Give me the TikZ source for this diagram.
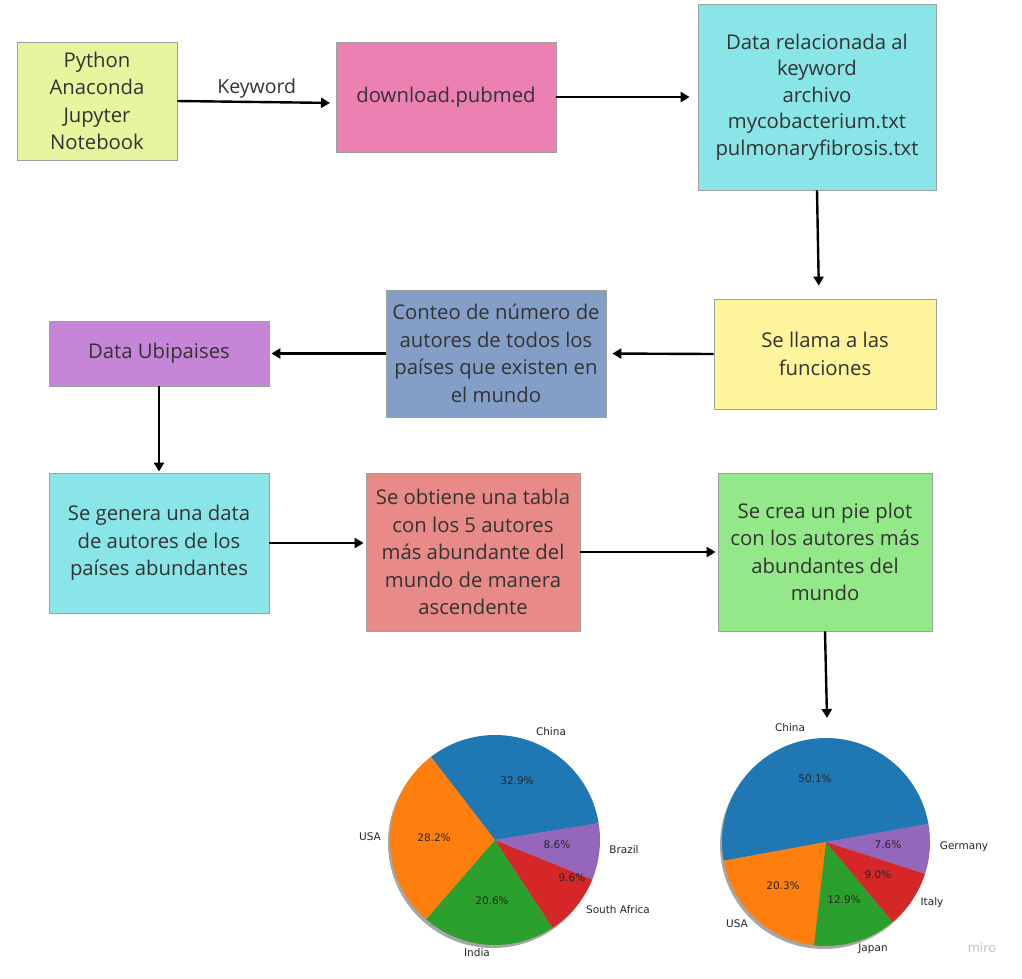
\documentclass[tikz,border=0pt]{standalone}
\usepackage{fontspec}
\setmainfont{Open Sans}
\newfontfamily\pltfont{DejaVu Sans}
\usetikzlibrary{arrows.meta,calc}
\definecolor{txt}{HTML}{333333}
\definecolor{bord}{HTML}{9AA39A}
\definecolor{cPy}{HTML}{E7F59E}
\definecolor{cDl}{HTML}{EC80B2}
\definecolor{cCy}{HTML}{89E5E8}
\definecolor{cYe}{HTML}{FFF59C}
\definecolor{cBl}{HTML}{849FC7}
\definecolor{cPu}{HTML}{C785D8}
\definecolor{cRe}{HTML}{E88A87}
\definecolor{cGr}{HTML}{93E98A}
\definecolor{tBlue}{HTML}{1F77B4}
\definecolor{tOrange}{HTML}{FF7F0E}
\definecolor{tGreen}{HTML}{2CA02C}
\definecolor{tRed}{HTML}{D62728}
\definecolor{tPurple}{HTML}{9467BD}
\begin{document}
\begin{tikzpicture}[x=1pt,y=-1pt,
  box/.style={draw=bord,line width=0.8pt,rectangle,align=center,text=txt,
    font=\fontsize{20.3}{27.5}\selectfont,inner sep=0pt},
  conn/.style={line width=2.4pt,-{Triangle[length=9pt,width=10pt]}},
  lbl/.style={font=\pltfont\fontsize{10.5}{12}\selectfont,text=black!85,inner sep=0pt},
  pct/.style={font=\pltfont\fontsize{10.5}{12}\selectfont,text=black!85,inner sep=0pt}]
\useasboundingbox (0,0) rectangle (1022,978);
\fill[white] (0,0) rectangle (1022,978);

% boxes
\node[box,fill=cPy,minimum width=160pt,minimum height=118pt] (py) at (97,101) {Python\\Anaconda\\Jupyter\\Notebook};
\node[box,fill=cDl,minimum width=220pt,minimum height=110pt] (dl) at (446,97) {download.pubmed};
\node[box,fill=cCy,minimum width=238pt,minimum height=186pt,font=\fontsize{20.3}{26.5}\selectfont] (data) at (817,97) {Data relacionada al\\keyword\\archivo\\mycobacterium.txt\\pulmonaryfibrosis.txt};
\node[box,fill=cYe,minimum width=222pt,minimum height=110pt] (llama) at (825,354) {Se llama a las\\funciones};
\node[box,fill=cBl,minimum width=220pt,minimum height=127pt] (conteo) at (496,353.5) {Conteo de número de\\autores de todos los\\países que existen en\\el mundo};
\node[box,fill=cPu,minimum width=220pt,minimum height=65pt] (ubi) at (159,353.5) {Data Ubipaises};
\node[box,fill=cCy,minimum width=220pt,minimum height=140pt] (genera) at (159,543) {Se genera una data\\de autores de los\\países abundantes};
\node[box,fill=cRe,minimum width=214pt,minimum height=158pt] (obtiene) at (473,552) {Se obtiene una tabla\\con los 5 autores\\más abundante del\\mundo de manera\\ascendente};
\node[box,fill=cGr,minimum width=214pt,minimum height=158pt] (crea) at (825,552) {Se crea un pie plot\\con los autores más\\abundantes del\\mundo};

% pie chart 1
\coordinate (pieA) at (495,840);
\begin{scope}[shift={(pieA)},yscale=-1]
  \fill[black,opacity=0.35] (-2,-3) circle[radius=105];
  \fill[tBlue]   (0,0) -- (9.2:105)   arc[start angle=9.2,end angle=127.6,radius=105] -- cycle;
  \fill[tOrange] (0,0) -- (127.6:105) arc[start angle=127.6,end angle=229.1,radius=105] -- cycle;
  \fill[tGreen]  (0,0) -- (229.1:105) arc[start angle=229.1,end angle=303.3,radius=105] -- cycle;
  \fill[tRed]    (0,0) -- (303.3:105) arc[start angle=303.3,end angle=337.9,radius=105] -- cycle;
  \fill[tPurple] (0,0) -- (337.9:105) arc[start angle=337.9,end angle=369.2,radius=105] -- cycle;
\end{scope}
\node[lbl] (a1) at (551,732) {China};
\node[pct] (a2) at (517,781) {32.9\%};
\node[lbl] (a3) at (370,837) {USA};
\node[pct] (a4) at (434,838) {28.2\%};
\node[lbl] (a5) at (624,850) {Brazil};
\node[pct] (a6) at (557,845) {8.6\%};
\node[pct] (a7) at (572,878) {9.6\%};
\node[lbl] (a8) at (618,910) {South Africa};
\node[pct] (a9) at (492,901) {20.6\%};
\node[lbl] (a10) at (477,953) {India};

% pie chart 2
\coordinate (pieB) at (826,842);
\begin{scope}[shift={(pieB)},yscale=-1]
  \fill[black,opacity=0.35] (-2,-3) circle[radius=104];
  \fill[tBlue]   (0,0) -- (10:104)     arc[start angle=10,end angle=190.4,radius=104] -- cycle;
  \fill[tOrange] (0,0) -- (190.4:104)  arc[start angle=190.4,end angle=263.4,radius=104] -- cycle;
  \fill[tGreen]  (0,0) -- (263.4:104)  arc[start angle=263.4,end angle=309.9,radius=104] -- cycle;
  \fill[tRed]    (0,0) -- (309.9:104)  arc[start angle=309.9,end angle=342.3,radius=104] -- cycle;
  \fill[tPurple] (0,0) -- (342.3:104)  arc[start angle=342.3,end angle=370,radius=104] -- cycle;
\end{scope}
\node[lbl] (b1) at (790,728) {China};
\node[pct] (b2) at (815,779) {50.1\%};
\node[lbl] (b3) at (964,847) {Germany};
\node[pct] (b4) at (888,845) {7.6\%};
\node[pct] (b5) at (878,875) {9.0\%};
\node[lbl] (b6) at (932,903) {Italy};
\node[pct] (b7) at (783,886) {20.3\%};
\node[pct] (b8) at (844,900) {12.9\%};
\node[lbl] (b9) at (737,924) {USA};
\node[lbl] (b10) at (873,949) {Japan};

\node[font=\fontsize{13}{15}\selectfont,text=black!25,inner sep=0pt] (miro) at (982,948) {miro};

% connectors
\coordinate (kwEnd) at (336,103);
\draw[conn,shorten >=6pt] (py.east) -- (kwEnd) node[pos=0.5,above=3pt,font=\fontsize{19.5}{22}\selectfont,text=txt,inner sep=0pt] (kw) {Keyword};
\draw[conn,shorten >=8pt] (dl.east) -- (data.west);
\draw[conn,shorten >=13pt] (data.south) -- ([xshift=-6pt]llama.north);
\draw[conn,shorten >=6pt] (llama.west) -- (conteo.east);
\draw[conn,shorten >=2pt] (conteo.west) -- (ubi.east);
\draw[conn,shorten >=1pt] (ubi.south) -- (genera.north);
\draw[conn,shorten >=2pt] (genera.east) -- (genera.east -| obtiene.west);
\draw[conn,shorten >=2pt] (obtiene.east) -- (crea.west);
\coordinate (pieTop) at (827,718);
\draw[conn] (crea.south) -- (pieTop);
\end{tikzpicture}
\end{document}
